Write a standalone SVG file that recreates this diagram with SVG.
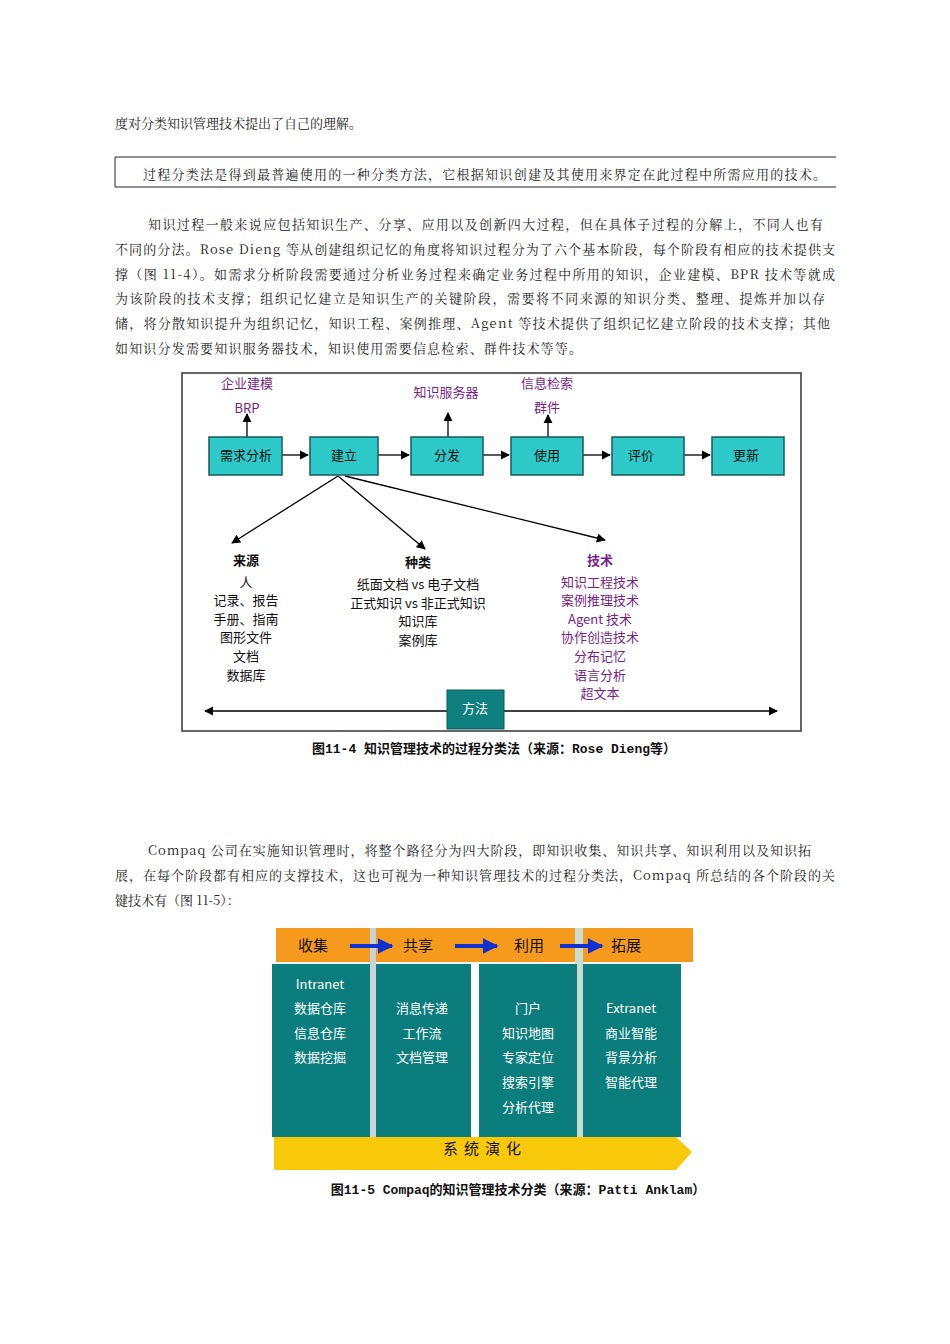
<svg xmlns="http://www.w3.org/2000/svg" width="950" height="1344" viewBox="0 0 950 1344">
<style>
.p{font-family:"Noto Serif CJK SC","Noto Sans CJK SC",serif;font-size:13px;fill:#222}
.c{font-family:"Noto Sans CJK SC",sans-serif;font-size:13px;fill:#111;text-anchor:middle}
.pu{fill:#7a1f8a}
.box{fill:#2ec9c9;stroke:#1a5a5a;stroke-width:1.5}
.w{fill:#fff}
.ln{stroke:#000;stroke-width:1.3;fill:none}
.cap{font-family:"Liberation Mono","Noto Sans CJK SC",monospace;font-size:13px;fill:#111;text-anchor:middle;font-weight:bold}
</style>
<defs>
<marker id="a" viewBox="0 0 10 10" refX="9" refY="5" markerWidth="7" markerHeight="7" orient="auto-start-reverse"><path d="M0,0L10,5L0,10z" fill="#000"/></marker>
<marker id="b" viewBox="0 0 10 10" refX="9" refY="5" markerWidth="4" markerHeight="4" orient="auto"><path d="M0,0L10,5L0,10z" fill="#1030d0"/></marker>
</defs>
<rect width="950" height="1344" fill="#fff"/>
<g id="text-top" class="p">
<text x="115" y="128">度对分类知识管理技术提出了自己的理解。</text>
<path d="M836,157H115V187H836" fill="none" stroke="#222"/>
<text x="143" y="179" textLength="683">过程分类法是得到最普遍使用的一种分类方法，它根据知识创建及其使用来界定在此过程中所需应用的技术。</text>
<text x="148" y="229" textLength="675">知识过程一般来说应包括知识生产、分享、应用以及创新四大过程，但在具体子过程的分解上，不同人也有</text>
<text x="115" y="254" textLength="720">不同的分法。Rose Dieng 等从创建组织记忆的角度将知识过程分为了六个基本阶段，每个阶段有相应的技术提供支</text>
<text x="115" y="279" textLength="720">撑（图 11-4）。如需求分析阶段需要通过分析业务过程来确定业务过程中所用的知识，企业建模、BPR 技术等就成</text>
<text x="115" y="303" textLength="710">为该阶段的技术支撑；组织记忆建立是知识生产的关键阶段，需要将不同来源的知识分类、整理、提炼并加以存</text>
<text x="115" y="328" textLength="715">储，将分散知识提升为组织记忆，知识工程、案例推理、Agent 等技术提供了组织记忆建立阶段的技术支撑；其他</text>
<text x="115" y="353" textLength="467">如知识分发需要知识服务器技术，知识使用需要信息检索、群件技术等等。</text>
<text x="148" y="855" textLength="663">Compaq 公司在实施知识管理时，将整个路径分为四大阶段，即知识收集、知识共享、知识利用以及知识拓</text>
<text x="115" y="880" textLength="720">展，在每个阶段都有相应的支撑技术，这也可视为一种知识管理技术的过程分类法，Compaq 所总结的各个阶段的关</text>
<text x="115" y="905">键技术有（图 11-5）：</text>
</g>
<rect x="182" y="373" width="619" height="358" fill="#fff" stroke="#333" stroke-width="1.5"/>
<g id="connectors">
<path class="ln" d="M282,455H308" marker-end="url(#a)"/>
<path class="ln" d="M378,455H409" marker-end="url(#a)"/>
<path class="ln" d="M483,455H509" marker-end="url(#a)"/>
<path class="ln" d="M583,455H610" marker-end="url(#a)"/>
<path class="ln" d="M684,455H710" marker-end="url(#a)"/>
<path class="ln" d="M247,437V414" marker-end="url(#a)"/>
<path class="ln" d="M448,437V413" marker-end="url(#a)"/>
<path class="ln" d="M548,437V415" marker-end="url(#a)"/>
<path class="ln" d="M338,476L232,543" marker-end="url(#a)"/>
<path class="ln" d="M338,476L425,549" marker-end="url(#a)"/>
<path class="ln" d="M345,476L605,540" marker-end="url(#a)"/>
<path class="ln" d="M205,711H777" marker-start="url(#a)" marker-end="url(#a)"/>
</g>
<g id="n-xuqiu"><rect class="box" x="209" y="437" width="73" height="38"/><text class="c" x="246" y="460">需求分析</text></g>
<g id="n-jianli"><rect class="box" x="310" y="437" width="68" height="38"/><text class="c" x="344" y="460">建立</text></g>
<g id="n-fenfa"><rect class="box" x="411" y="437" width="72" height="38"/><text class="c" x="447" y="460">分发</text></g>
<g id="n-shiyong"><rect class="box" x="511" y="437" width="72" height="38"/><text class="c" x="547" y="460">使用</text></g>
<g id="n-pingjia"><rect class="box" x="612" y="437" width="72" height="38"/><text class="c" x="641" y="460">评价</text></g>
<g id="n-gengxin"><rect class="box" x="712" y="437" width="72" height="38"/><text class="c" x="746" y="460">更新</text></g>
<g id="labels-up">
<text class="c pu" x="247" y="388">企业建模</text><text class="c pu" x="247" y="413">BRP</text>
<text class="c pu" x="446" y="397">知识服务器</text>
<text class="c pu" x="547" y="388">信息检索</text><text class="c pu" x="547" y="412">群件</text>
</g>
<g id="n-laiyuan">
<text class="c" x="246" y="565" font-weight="bold">来源</text>
<text class="c" x="246" y="587">人</text><text class="c" x="246" y="605">记录、报告</text><text class="c" x="246" y="624">手册、指南</text><text class="c" x="246" y="642">图形文件</text><text class="c" x="246" y="661">文档</text><text class="c" x="246" y="680">数据库</text>
</g>
<g id="n-zhonglei">
<text class="c" x="418" y="567" font-weight="bold">种类</text>
<text class="c" x="418" y="589">纸面文档 vs 电子文档</text><text class="c" x="418" y="608">正式知识 vs 非正式知识</text><text class="c" x="418" y="626">知识库</text><text class="c" x="418" y="645">案例库</text>
</g>
<g id="n-jishu">
<text class="c pu" x="600" y="565" font-weight="bold">技术</text>
<text class="c pu" x="600" y="587">知识工程技术</text><text class="c pu" x="600" y="605">案例推理技术</text><text class="c pu" x="600" y="624">Agent 技术</text><text class="c pu" x="600" y="642">协作创造技术</text><text class="c pu" x="600" y="661">分布记忆</text><text class="c pu" x="600" y="680">语言分析</text><text class="c pu" x="600" y="698">超文本</text>
</g>
<g id="n-fangfa"><rect x="447" y="690" width="57" height="39" fill="#0e8080" stroke="#0a5a5a"/><text class="c w" x="475" y="713">方法</text></g>
<text class="cap" x="494" y="753">图11-4 知识管理技术的过程分类法（来源：Rose Dieng等）</text>

<g id="compaq">
<rect x="276" y="928" width="417" height="34" fill="#f59a1c"/>
<rect x="370" y="928" width="6" height="220" fill="#c8d4d8"/>
<rect x="575" y="928" width="8" height="220" fill="#c8dcd0"/>
<path d="M274,1137H676L692,1152L676,1170H274z" fill="#f8c80a"/>
<rect x="272" y="964" width="98" height="173" fill="#0b7d7d"/>
<rect x="376" y="964" width="95" height="173" fill="#0b7d7d"/>
<rect x="479" y="964" width="98" height="173" fill="#0b7d7d"/>
<rect x="583" y="964" width="98" height="173" fill="#0b7d7d"/>
<path d="M350,946H392" stroke="#1030d0" stroke-width="4" marker-end="url(#b)"/>
<path d="M455,946H497" stroke="#1030d0" stroke-width="4" marker-end="url(#b)"/>
<path d="M560,946H602" stroke="#1030d0" stroke-width="4" marker-end="url(#b)"/>
<g font-family="Noto Sans CJK SC,sans-serif" font-size="15" fill="#111" text-anchor="middle">
<text x="313" y="951">收集</text><text x="418" y="951">共享</text><text x="529" y="951">利用</text><text x="626" y="951">拓展</text>
<text x="485" y="1154" letter-spacing="6">系统演化</text>
</g>
<g font-family="Noto Sans CJK SC,sans-serif" font-size="13" fill="#fff" text-anchor="middle">
<text x="320" y="989">Intranet</text><text x="320" y="1013">数据仓库</text><text x="320" y="1038">信息仓库</text><text x="320" y="1062">数据挖掘</text>
<text x="422" y="1013">消息传递</text><text x="422" y="1038">工作流</text><text x="422" y="1062">文档管理</text>
<text x="528" y="1013">门户</text><text x="528" y="1038">知识地图</text><text x="528" y="1062">专家定位</text><text x="528" y="1087">搜索引擎</text><text x="528" y="1112">分析代理</text>
<text x="631" y="1013">Extranet</text><text x="631" y="1038">商业智能</text><text x="631" y="1062">背景分析</text><text x="631" y="1087">智能代理</text>
</g>
</g>
<text class="cap" x="518" y="1194">图11-5 Compaq的知识管理技术分类（来源：Patti Anklam）</text>
</svg>
